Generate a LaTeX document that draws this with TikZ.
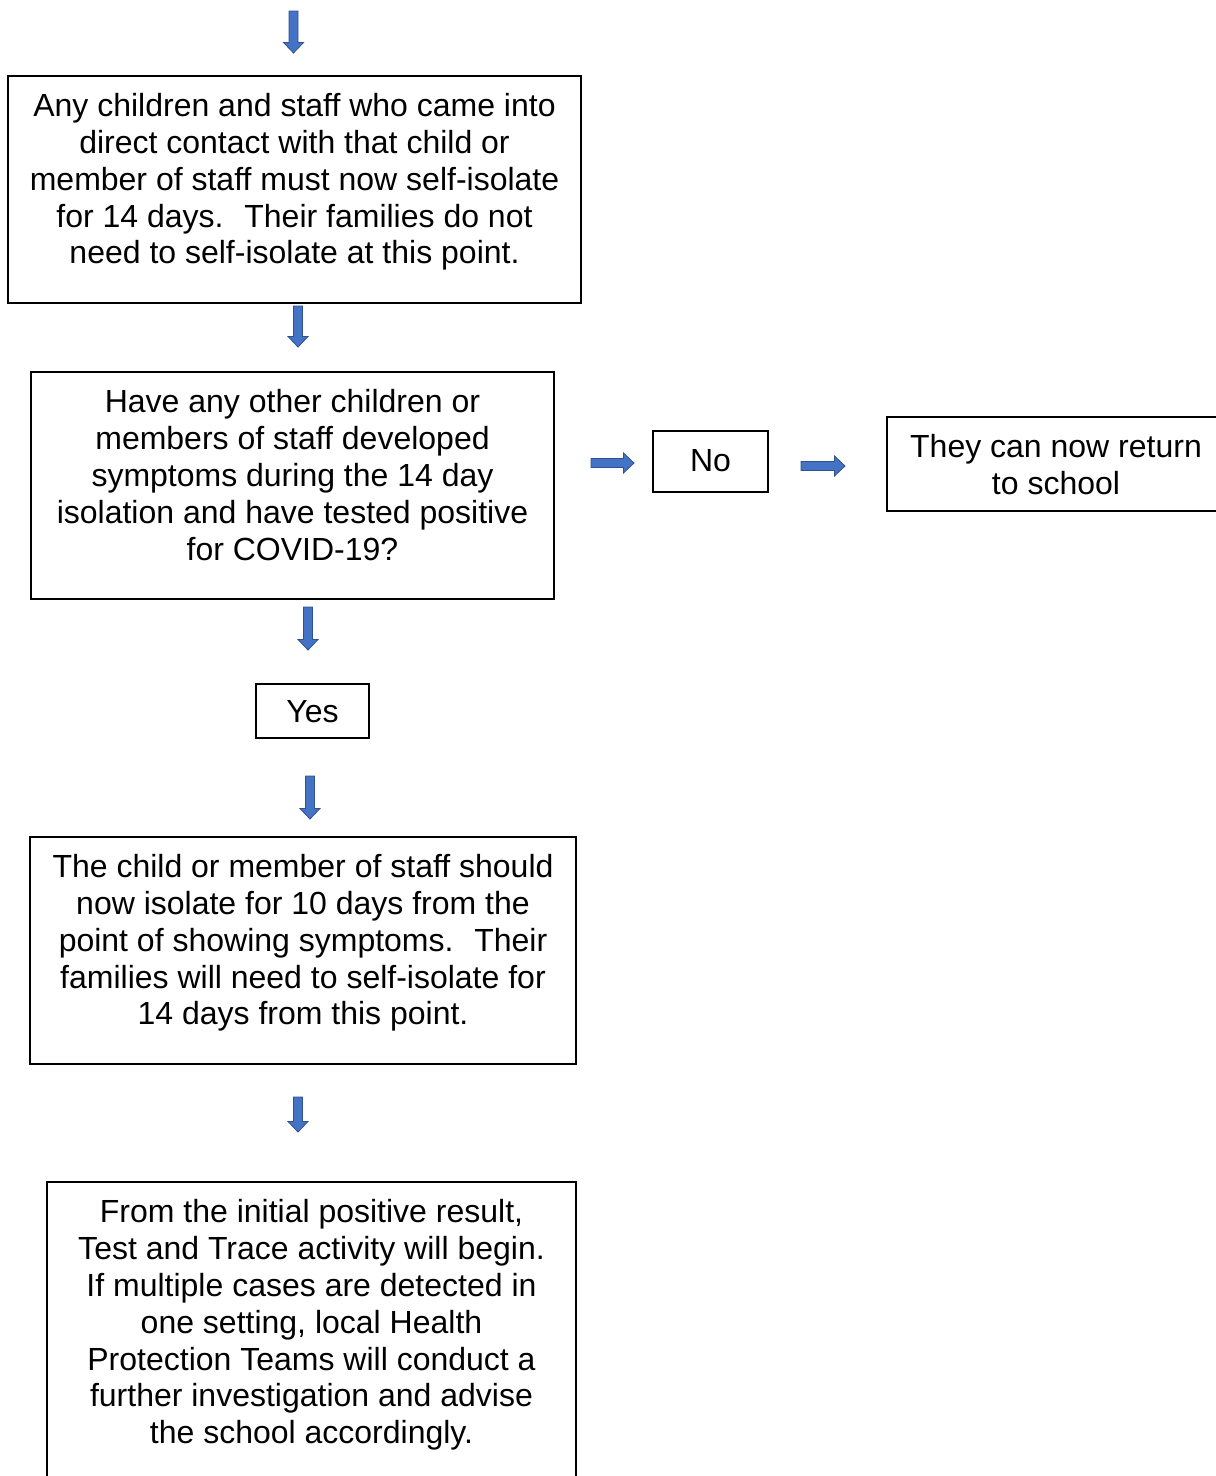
\documentclass[tikz,border=0pt]{standalone}
\usepackage{fontspec}
\setmainfont{Liberation Sans}
\definecolor{arrfill}{HTML}{4472C4}
\definecolor{arrline}{HTML}{2F528F}
\begin{document}
\begin{tikzpicture}[x=1pt,y=-1pt,
  box/.style={draw=black, line width=1.1pt, inner sep=0pt, rectangle},
  txt/.style={align=center, inner sep=0pt, font=\fontsize{32pt}{36.8pt}\selectfont},
  arrowst/.style={fill=arrfill, draw=arrline, line width=0.8pt, line join=miter},
  pics/darrow/.style={code={\filldraw[arrowst] (-4.5,0) -- (4.5,0) -- (4.5,#1-10.5) -- (10,#1-10.5) -- (0,#1) -- (-10,#1-10.5) -- (-4.5,#1-10.5) -- cycle;}},
  pics/rarrow/.style={code={\filldraw[arrowst] (0,-4.5) -- (0,4.5) -- (#1-10.5,4.5) -- (#1-10.5,10) -- (#1,0) -- (#1-10.5,-10) -- (#1-10.5,-4.5) -- cycle;}}
]
\useasboundingbox (0,0) rectangle (1216,1476);
\clip (0,0) rectangle (1216,1476);

% boxes
\node[box, minimum width=573pt, minimum height=227pt] (b1) at (294.5,189.5) {};
\node[txt] (t1) at (294.5,182) {Any children and staff who came into\\direct contact with that child or\\member of staff must now self-isolate\\for 14 days.~ Their families do not\\need to self-isolate at this point.};

\node[box, minimum width=523pt, minimum height=227pt] (b2) at (292.5,485.5) {};
\node[txt] (t2) at (292.5,475) {Have any other children or\\members of staff developed\\symptoms during the 14 day\\isolation and have tested positive\\for COVID-19?};

\node[box, minimum width=115pt, minimum height=61pt] (no) at (710.5,461.5) {};
\node[txt] (tno) at (710.5,460.5) {No};

\node[box, minimum width=350pt, minimum height=94pt] (b5) at (1062,464) {};
\node[txt] (t5) at (1056,464.5) {They can now return\\to school};

\node[box, minimum width=113pt, minimum height=54pt] (yes) at (312.5,711) {};
\node[txt] (tyes) at (312.5,712) {Yes};

\node[box, minimum width=546pt, minimum height=227pt] (b3) at (303,950.5) {};
\node[txt] (t3) at (303,943) {The child or member of staff should\\now isolate for 10 days from the\\point of showing symptoms.~ Their\\families will need to self-isolate for\\14 days from this point.};

\node[box, minimum width=529pt, minimum height=340pt] (b4) at (311.5,1352) {};
\node[txt] (t4) at (311.5,1325) {From the initial positive result,\\Test and Trace activity will begin.\\If multiple cases are detected in\\one setting, local Health\\Protection Teams will conduct a\\further investigation and advise\\the school accordingly.};

% block arrows
\pic (a1) at (293.5,11) {darrow=42};
\pic (a2) at (298,306) {darrow=41};
\pic (a3) at (308,607) {darrow=43};
\pic (a4) at (310,776) {darrow=43};
\pic (a5) at (298,1097) {darrow=35};
\pic (r1) at (591,463) {rarrow=43};
\pic (r2) at (801,466) {rarrow=44};
\end{tikzpicture}
\end{document}
